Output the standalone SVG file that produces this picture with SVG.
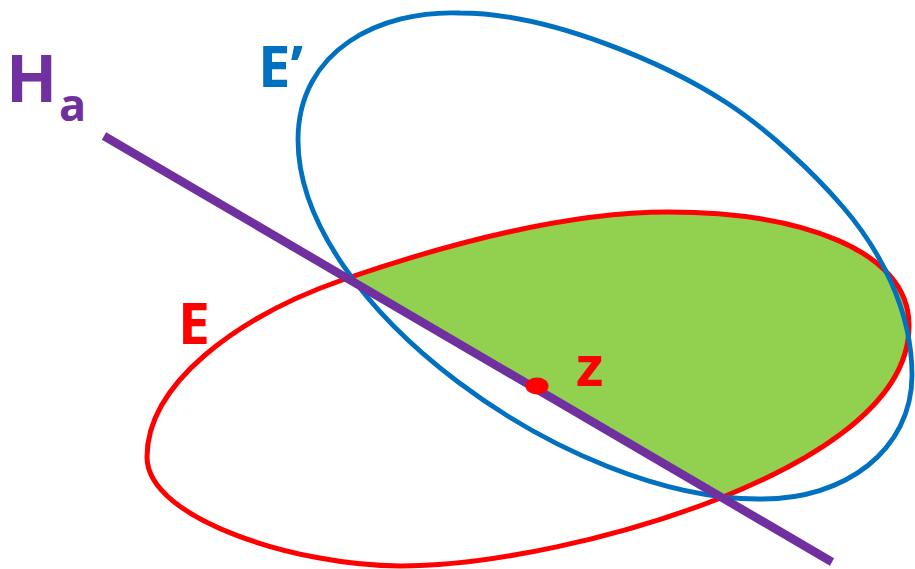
<svg xmlns="http://www.w3.org/2000/svg" width="915" height="569" viewBox="0 0 915 569">
  <style>
    .lbl { font-family: "Open Sans", "Liberation Sans", sans-serif; font-weight: bold; }
    .red { fill: none; stroke: #FF0000; stroke-width: 5; }
    .blue { fill: none; stroke: #0070C0; stroke-width: 4.8; }
    .line { stroke: #7030A0; stroke-width: 8.5; stroke-linecap: butt; }
  </style>
  <defs>
    <path id="curveE" d="M668,212 C800,212 909,250 909,325 C910,412 790,470 723,497 C620,538 490,566 400,566 C300,566 147,520 147,457 C147,385 235,317 345,279 C450,243 570,212 668,212 Z"/>
    <clipPath id="above">
      <polygon points="0,75 915,610 915,0 0,0"/>
    </clipPath>
  </defs>
  <rect width="915" height="569" fill="#FFFFFF"/>
  <g id="region">
    <use href="#curveE" fill="#92D050" stroke="none" clip-path="url(#above)"/>
  </g>
  <g id="E">
    <use href="#curveE" class="red"/>
    <text class="lbl" x="178" y="344" font-size="57" fill="#FF0000">E</text>
  </g>
  <g id="Eprime">
    <path class="blue" d="M460,13 C380,10 298,50 298,140 C298,305 570,500 760,499 C845,500 912,450 912,375 C912,310 880,250 843,207 C813,172 767,129 727,103 C667,64 550,13 460,13 Z"/>
    <text class="lbl" x="258" y="87" font-size="58" fill="#0070C0">E’</text>
  </g>
  <g id="Ha">
    <line class="line" x1="104" y1="136" x2="832" y2="562"/>
    <text class="lbl" x="6" y="102" font-size="67" fill="#7030A0">H</text>
    <text class="lbl" x="59" y="121" font-size="45" fill="#7030A0">a</text>
  </g>
  <g id="z">
    <ellipse cx="537" cy="386" rx="11.5" ry="8.5" fill="#FF0000"/>
    <text class="lbl" x="576" y="386" font-size="56" fill="#FF0000">z</text>
  </g>
</svg>
